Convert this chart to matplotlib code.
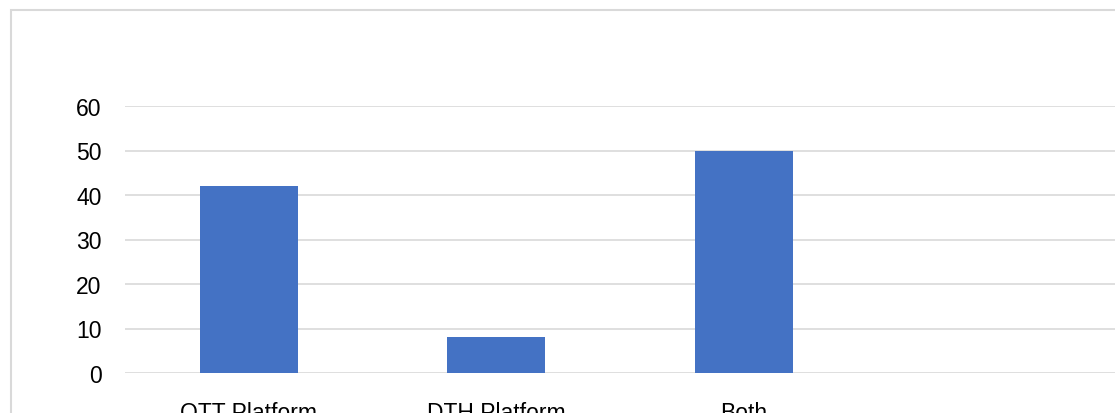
import matplotlib.pyplot as plt
from matplotlib.patches import Rectangle

categories = ['OTT Platform', 'DTH Platform', 'Both', '']
counts = [42, 8, 50, 0]
y_ticks = [0, 10, 20, 30, 40, 50, 60]

W, H = 1115, 414
fig = plt.figure(figsize=(W / 100, H / 100), dpi=100)
plt.rcParams['font.family'] = ['Liberation Sans', 'DejaVu Sans']

# chart border, cut off on the right and bottom
fig.patches.append(Rectangle((11 / W, -0.1), 1.2, 1 - 11 / H + 0.1,
                             transform=fig.transFigure, fill=False,
                             edgecolor='#d9d9d9', linewidth=1.5))

ax = fig.add_axes([125 / W, 40 / H, 1 - 125 / W, (374 - 107) / H])
x = range(len(categories))
ax.bar(x, counts, width=0.396, color='#4472C4', zorder=3)

ax.set_xlim(-0.5, len(categories) - 0.5)
ax.set_ylim(0, 60)
ax.set_yticks(y_ticks)
ax.set_yticklabels([str(t) for t in y_ticks], fontsize=16.5, color='#000000')
ax.set_xticks(list(x))
ax.set_xticklabels(categories, fontsize=16.5, color='#000000')
ax.tick_params(axis='y', length=0, pad=17)
ax.tick_params(axis='x', length=0, pad=20)
ax.grid(axis='y', color='#d9d9d9', linewidth=1.2, zorder=0)
for s in ax.spines.values():
    s.set_visible(False)
ax.patch.set_alpha(0)

fig.savefig('out.png', dpi=100)
